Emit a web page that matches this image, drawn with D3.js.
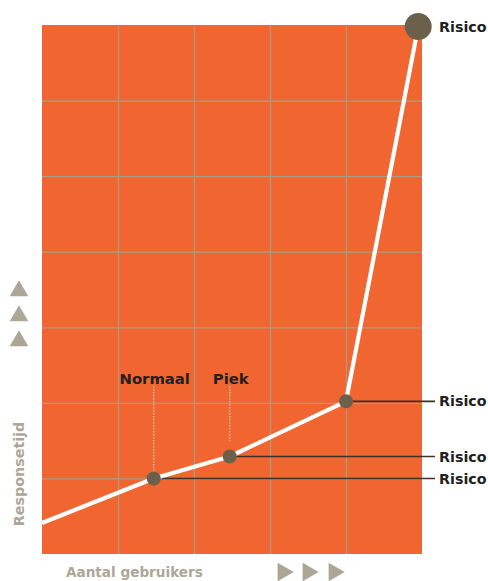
<!DOCTYPE html>
<html><head><meta charset="utf-8">
<script src="https://cdn.jsdelivr.net/npm/d3@7"></script>
<style>body{margin:0;background:#fff}svg{display:block}</style>
</head><body>
<svg id="c" width="488" height="581"></svg>
<script>
// Data
const xValues = [0, 1.47, 2.47, 4.0, 4.95];
const yValues = [0.41, 1.0, 1.29, 2.02, 6.98];
const dotShown = [false, true, true, true, true];
const dotBig = [false, false, false, false, true];
const rightLabels = ["", "Risico", "Risico", "Risico", "Risico"];
const topLabels = ["", "Normaal", "Piek", "", ""];
const xTicks = [1, 2, 3, 4];
const yTicks = [1, 2, 3, 4, 5, 6];
const xTitle = "Aantal gebruikers";
const yTitle = "Responsetijd";

const svg = d3.select("#c");
const m = {l: 42, r: 66, t: 25, b: 27};
const W = 488, H = 581;
const x = d3.scaleLinear().domain([0, 5]).range([m.l, W - m.r]);
const y = d3.scaleLinear().domain([0, 7]).range([H - m.b, m.t]);
const orange = "#f16531", grid = "#a79d86", dot = "#6b604b", dark = "#231f20", grey = "#ada696";
const font = "'DejaVu Sans', sans-serif";

svg.append("rect").attr("x", x(0)).attr("y", y(7)).attr("width", x(5) - x(0)).attr("height", y(0) - y(7)).attr("fill", orange);

const gx = svg.append("g").attr("transform", `translate(0,${y(0)})`)
  .call(d3.axisBottom(x).tickValues(xTicks).tickSize(-(y(0) - y(7))).tickFormat(""));
const gy = svg.append("g").attr("transform", `translate(${x(0)},0)`)
  .call(d3.axisLeft(y).tickValues(yTicks).tickSize(-(x(5) - x(0))).tickFormat(""));
[gx, gy].forEach(g => {
  g.select(".domain").remove();
  g.selectAll("line").attr("stroke", grid).attr("stroke-width", 1.2);
});

const pts = xValues.map((v, i) => ({x: v, y: yValues[i], dot: dotShown[i], big: dotBig[i], rl: rightLabels[i], tl: topLabels[i]}));

// leader lines to right labels (not for top)
pts.filter(p => p.rl && !p.big).forEach(p => {
  svg.append("line").attr("x1", x(p.x)).attr("x2", 435).attr("y1", y(p.y)).attr("y2", y(p.y))
    .attr("stroke", "#3b3329").attr("stroke-width", 1.6);
  svg.append("text").attr("x", 439).attr("y", y(p.y)).attr("dy", "0.36em").text(p.rl)
    .attr("font-family", font).attr("font-weight", "bold").attr("font-size", 14.3).attr("fill", dark);
});

// dotted leaders for top labels
pts.filter(p => p.tl).forEach((p, i) => {
  const yEnd = p.tl === "Normaal" ? y(p.y) - 6 : 441;
  svg.append("line").attr("x1", x(p.x)).attr("x2", x(p.x)).attr("y1", 386).attr("y2", yEnd)
    .attr("stroke", "#e8dccd").attr("stroke-width", 1.2).attr("stroke-dasharray", "1.5,1.5");
  svg.append("text").attr("x", x(p.x) + 1).attr("y", 384).attr("text-anchor", "middle").text(p.tl)
    .attr("font-family", font).attr("font-weight", "bold").attr("font-size", 14.8).attr("fill", dark);
});

const line = d3.line().x(d => x(d.x)).y(d => y(d.y));
svg.append("path").datum(pts).attr("d", line).attr("fill", "none").attr("stroke", "#fff")
  .attr("stroke-width", 4.2).attr("stroke-linejoin", "round");

svg.selectAll("circle.d").data(pts.filter(p => p.dot)).join("circle")
  .attr("cx", d => x(d.x)).attr("cy", d => y(d.y)).attr("r", d => d.big ? 13.5 : 7).attr("fill", dot);

// top label
pts.filter(p => p.big).forEach(p => {
  svg.append("text").attr("x", 439).attr("y", y(p.y)).attr("dy", "0.36em").text(p.rl)
    .attr("font-family", font).attr("font-weight", "bold").attr("font-size", 14.3).attr("fill", dark);
});

// axis titles
svg.append("text").attr("x", 66).attr("y", 577).text(xTitle)
  .attr("font-family", font).attr("font-weight", "bold").attr("font-size", 13.6).attr("fill", grey);
svg.append("text").attr("transform", "translate(24,474) rotate(-90)").attr("text-anchor", "middle").text(yTitle)
  .attr("font-family", font).attr("font-weight", "bold").attr("font-size", 14.3).attr("fill", grey);

// arrow triangles
const tri = d3.symbol().type(d3.symbolTriangle).size(150);
[290, 315, 340].forEach(cy => {
  svg.append("path").attr("d", tri()).attr("transform", `translate(19,${cy + 1})`).attr("fill", grey);
});
[283, 308, 334].forEach(cx => {
  svg.append("path").attr("d", tri()).attr("transform", `translate(${cx},${572}) rotate(90)`).attr("fill", grey);
});
</script>
</body></html>
